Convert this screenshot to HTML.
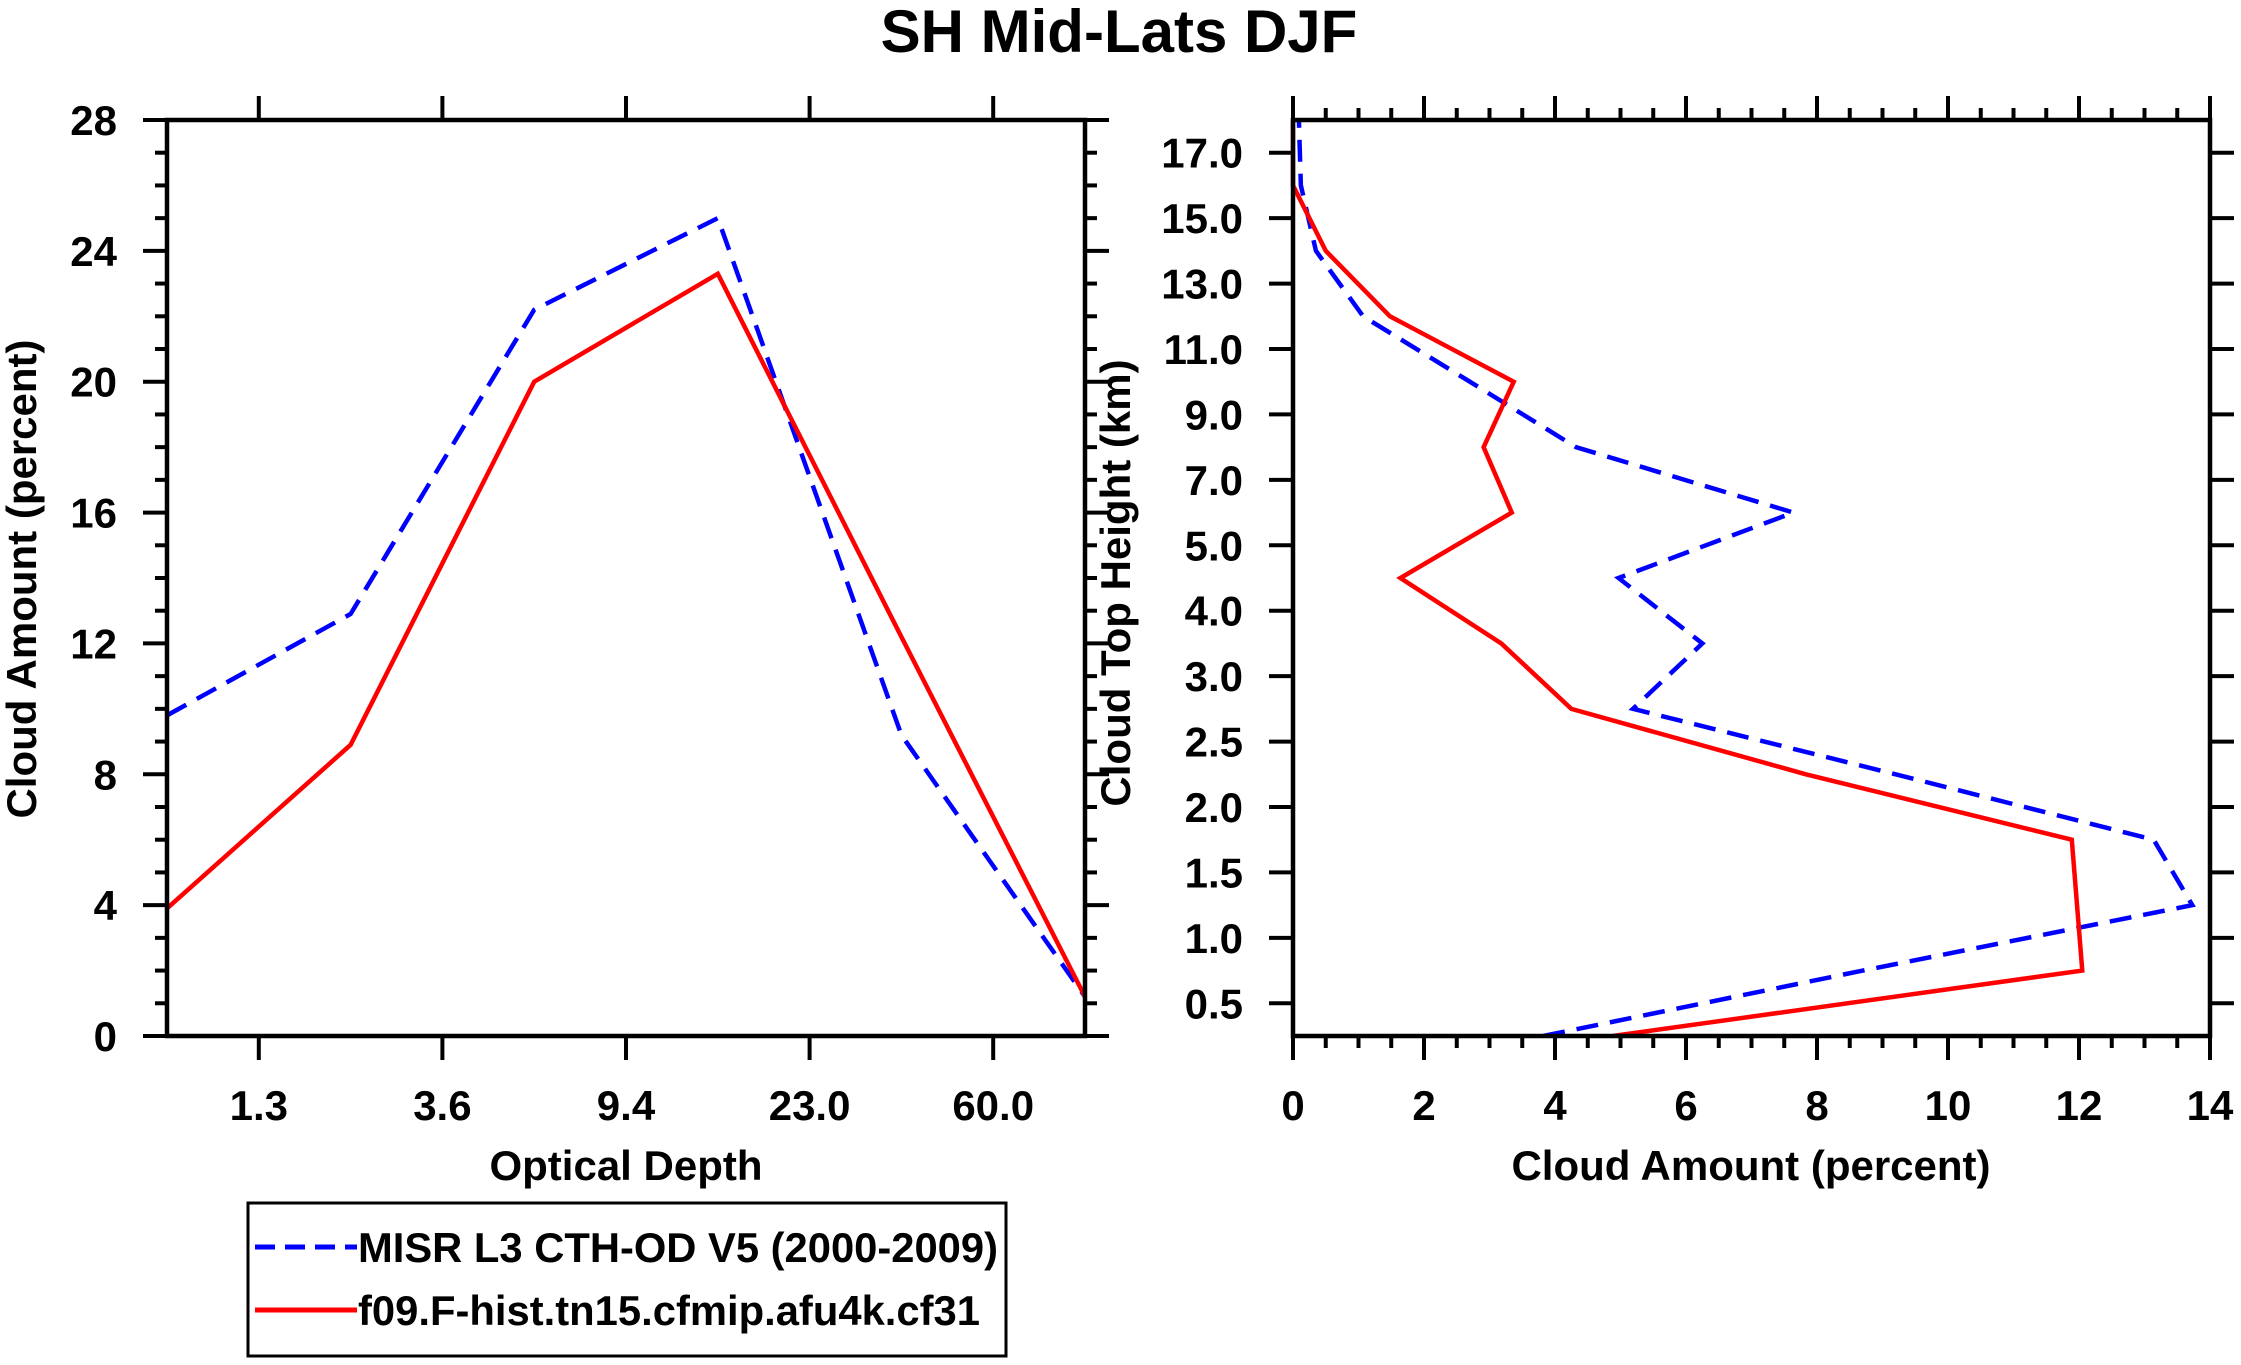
<!DOCTYPE html>
<html><head><meta charset="utf-8"><style>
html,body{margin:0;padding:0;background:#fff;}
svg{display:block;font-family:"Liberation Sans",sans-serif;font-weight:bold;}
</style></head><body>
<svg id="c" width="2241" height="1365" viewBox="0 0 2241 1365" xmlns="http://www.w3.org/2000/svg">
<text x="1119" y="52" font-size="60" text-anchor="middle">SH Mid-Lats DJF</text>
<g id="left"></g>
<g id="right"></g>
<g>
<rect x="248" y="1203" width="758" height="153" fill="none" stroke="#000" stroke-width="3"/>
<line x1="255" y1="1247" x2="357" y2="1247" stroke="#0000ff" stroke-width="5" stroke-dasharray="20,10"/>
<text x="358" y="1262" font-size="42" textLength="640" lengthAdjust="spacingAndGlyphs">MISR L3 CTH-OD V5 (2000-2009)</text>
<line x1="255" y1="1310" x2="357" y2="1310" stroke="#ff0000" stroke-width="5"/>
<text x="358" y="1325" font-size="42" textLength="622" lengthAdjust="spacingAndGlyphs">f09.F-hist.tn15.cfmip.afu4k.cf31</text>
</g>
</svg>
<script>
const odLabels = ["1.3","3.6","9.4","23.0","60.0"];
const odMisr = [9.8, 12.9, 22.2, 25.0, 9.2, 1.2];
const odModel = [3.9, 8.9, 20.0, 23.3, 12.2, 1.2];
const cthLabels = ["0.5","1.0","1.5","2.0","2.5","3.0","4.0","5.0","7.0","9.0","11.0","13.0","15.0","17.0"];
const cthMisr = [3.82, 8.7, 13.73, 13.14, 9.2, 5.19, 6.25, 4.97, 7.64, 4.32, 2.7, 1.07, 0.35, 0.12, 0.09];
const cthModel = [4.88, 12.05, 11.97, 11.89, 7.83, 4.25, 3.18, 1.64, 3.34, 2.91, 3.37, 1.48, 0.5, 0.0, 0.0];
const leftY = [0,4,8,12,16,20,24,28];
const rightX = [0,2,4,6,8,10,12,14];

const NS = "http://www.w3.org/2000/svg";
function mk(parent, tag, attrs, txt){
  const e = document.createElementNS(NS, tag);
  for (const k in attrs) e.setAttribute(k, attrs[k]);
  if (txt !== undefined) e.textContent = txt;
  parent.appendChild(e); return e;
}
function ln(g,x1,y1,x2,y2,w){ return mk(g,"line",{x1:x1,y1:y1,x2:x2,y2:y2,stroke:"#000","stroke-width":w||4}); }

// ---------- Left panel ----------
const L = {l:167, r:1085, t:120, b:1036};
const lx = i => L.l + (L.r-L.l) * i / 5;
const ly = v => L.b - (L.b-L.t) * v / 28;
const gl = document.getElementById("left");
for (let v=0; v<=28; v++){
  const major = v%4===0, len = major?24:12;
  const t1 = ln(gl, L.l-len, ly(v), L.l, ly(v));
  
  
  const t2 = ln(gl, L.r, ly(v), L.r+len, ly(v));
  
  
}
leftY.forEach(v=>{
  const t = mk(gl,"text",{x:L.l-50,y:ly(v)+15,"font-size":42,"text-anchor":"end"}, String(v));
  
  
});
odLabels.forEach((s,i)=>{
  const x = lx(i+0.5);
  const t1 = ln(gl, x, L.t-24, x, L.t);
  
  
  const t2 = ln(gl, x, L.b, x, L.b+24);
  
  
  const t = mk(gl,"text",{x:x,y:1120,"font-size":42,"text-anchor":"middle"}, s);
  
  
});
function series(g, xs, ys, color, dash, name){
  const p = mk(g,"polyline",{points: xs.map((x,i)=>x+","+ys[i]).join(" "), fill:"none", stroke:color, "stroke-width":4.5, "stroke-linejoin":"miter"});
  if (dash) p.setAttribute("stroke-dasharray","22,12");
  
  
}
series(gl, odMisr.map((v,i)=>lx(i)), odMisr.map(ly), "#0000ff", true, "od-misr-line");
series(gl, odModel.map((v,i)=>lx(i)), odModel.map(ly), "#ff0000", false, "od-model-line");
const fl = mk(gl,"rect",{x:L.l,y:L.t,width:L.r-L.l,height:L.b-L.t,fill:"none",stroke:"#000","stroke-width":4.5});


const lxt = mk(gl,"text",{x:626,y:1180,"font-size":42,"text-anchor":"middle"},"Optical Depth");


const lyt = mk(gl,"text",{x:0,y:0,"font-size":42,"text-anchor":"middle",transform:"translate(36,579) rotate(-90)"},"Cloud Amount (percent)");



// ---------- Right panel ----------
const R = {l:1293, r:2210, t:120, b:1036};
const rx = v => R.l + (R.r-R.l) * v / 14;
const ry = k => R.b - (R.b-R.t) * k / 14;
const gr = document.getElementById("right");
for (let k=0; k<=28; k++){
  const v = k/2, major = k%4===0, len = major?24:12;
  const t1 = ln(gr, rx(v), R.b, rx(v), R.b+len);
  
  
  const t2 = ln(gr, rx(v), R.t-len, rx(v), R.t);
  
  
}
rightX.forEach(v=>{
  const t = mk(gr,"text",{x:rx(v),y:1120,"font-size":42,"text-anchor":"middle"}, String(v));
  
  
});
cthLabels.forEach((s,i)=>{
  const y = ry(i+0.5);
  const t1 = ln(gr, R.l-24, y, R.l, y);
  
  
  const t2 = ln(gr, R.r, y, R.r+24, y);
  
  
  const t = mk(gr,"text",{x:1243,y:y+15,"font-size":42,"text-anchor":"end"}, s);
  
  
});
series(gr, cthMisr.map(rx), cthMisr.map((v,i)=>ry(i)), "#0000ff", true, "cth-misr-line");
series(gr, cthModel.map(rx), cthModel.map((v,i)=>ry(i)), "#ff0000", false, "cth-model-line");
const fr = mk(gr,"rect",{x:R.l,y:R.t,width:R.r-R.l,height:R.b-R.t,fill:"none",stroke:"#000","stroke-width":4.5});


const rxt = mk(gr,"text",{x:1751,y:1180,"font-size":42,"text-anchor":"middle"},"Cloud Amount (percent)");


const ryt = mk(gr,"text",{x:0,y:0,"font-size":42,"text-anchor":"middle",transform:"translate(1130,583) rotate(-90)"},"Cloud Top Height (km)");


</script>
</body></html>
